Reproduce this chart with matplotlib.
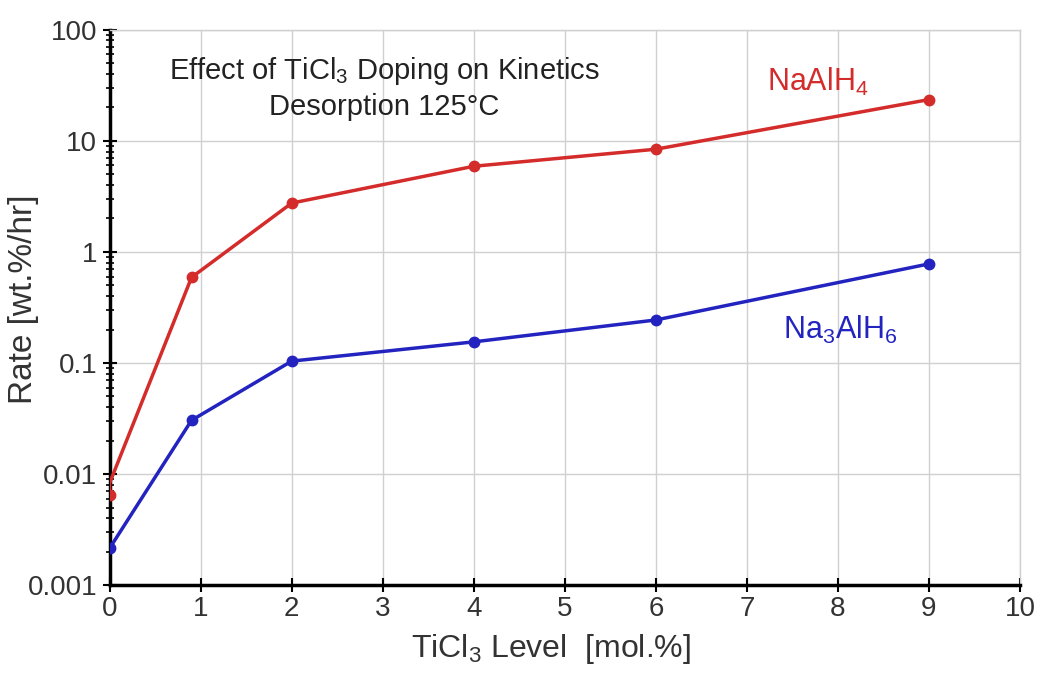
import matplotlib
matplotlib.use("Agg")
import matplotlib.pyplot as plt
from matplotlib.ticker import FixedLocator, FixedFormatter, LogLocator, NullFormatter

plt.rcParams['font.family'] = ['Liberation Sans', 'DejaVu Sans']
plt.rcParams['mathtext.default'] = 'regular'

# Data
x_naalh4 = [0, 0, 0.9, 2, 4, 6, 9]
y_naalh4 = [0.0065, 0.0083, 0.59, 2.75, 5.9, 8.4, 23.5]
x_na3alh6 = [0, 0.9, 2, 4, 6, 9]
y_na3alh6 = [0.00215, 0.0305, 0.104, 0.155, 0.244, 0.78]
x_ticks = [0, 1, 2, 3, 4, 5, 6, 7, 8, 9, 10]
y_ticks = [0.001, 0.01, 0.1, 1, 10, 100]
y_ticklabels = ["0.001", "0.01", "0.1", "1", "10", "100"]

red = '#d42b2b'
blue = '#2323c0'

fig = plt.figure(figsize=(10.44, 6.75), dpi=100)
ax = fig.add_axes([0.105, 0.133, 0.872, 0.823])

ax.plot(x_naalh4, y_naalh4, color=red, lw=2.5, marker='o', ms=7.5, zorder=3,
        markevery=[0, 2, 3, 4, 5, 6])
ax.plot(x_na3alh6, y_na3alh6, color=blue, lw=2.5, marker='o', ms=7.5, zorder=3)

ax.set_yscale('log')
ax.set_xlim(0, 10)
ax.set_ylim(0.001, 100)
ax.xaxis.set_major_locator(FixedLocator(x_ticks))
ax.yaxis.set_major_locator(FixedLocator(y_ticks))
ax.yaxis.set_major_formatter(FixedFormatter(y_ticklabels))
ax.yaxis.set_minor_locator(LogLocator(base=10, subs=range(2, 10)))
ax.yaxis.set_minor_formatter(NullFormatter())

ax.grid(True, which='major', color='#d0d0d0', lw=1)
ax.set_axisbelow(True)
for s in ['top', 'right']:
    ax.spines[s].set_color('#d0d0d0')
    ax.spines[s].set_linewidth(1)
for s in ['left', 'bottom']:
    ax.spines[s].set_color('black')
    ax.spines[s].set_linewidth(2.5)

ax.tick_params(axis='both', which='major', direction='inout', length=10, width=1.5,
               labelsize=20, colors='black', labelcolor='#333333')
ax.tick_params(axis='y', which='minor', direction='inout', length=6, width=1.2)
ax.tick_params(axis='x', which='major', pad=3)
ax.tick_params(axis='y', which='major', pad=4)

ax.set_xlabel('TiCl$_3$ Level  [mol.%]', fontsize=23, color='#333333')
ax.xaxis.set_label_coords(0.485, -0.085)
ax.set_ylabel('Rate [wt.%/hr]', fontsize=24, color='#333333')
ax.yaxis.set_label_coords(-0.078, 0.514)

ax.text(0.302, 0.895, 'Effect of TiCl$_3$ Doping on Kinetics\nDesorption 125°C',
        transform=ax.transAxes, ha='center', va='center', fontsize=21,
        color='#222222', linespacing=1.25)
ax.text(0.778, 0.906, 'NaAlH$_4$', transform=ax.transAxes, ha='center', va='center',
        fontsize=22, color=red)
ax.text(0.803, 0.459, 'Na$_3$AlH$_6$', transform=ax.transAxes, ha='center', va='center',
        fontsize=22, color=blue)

fig.savefig('out.png', dpi=100)
